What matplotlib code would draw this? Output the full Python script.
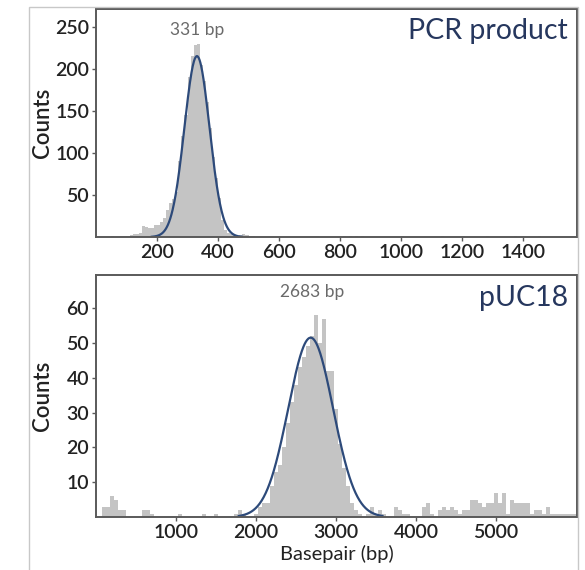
import numpy as np
import matplotlib
matplotlib.use('Agg')
import matplotlib.pyplot as plt
from matplotlib.patches import Rectangle

plt.rcParams['font.family'] = ['Lato', 'DejaVu Sans']

# PCR product histogram (10 bp bins, left edges)
pcr_starts = [50, 80, 90, 100, 110, 120, 130, 140, 150, 160, 170, 180, 190, 200, 210, 220,
              230, 240, 250, 260, 270, 280, 290, 300, 310, 320, 330, 340, 350, 360, 370, 380,
              390, 400, 410, 420, 430, 440, 450, 460, 470, 480, 490, 500, 510, 700, 710, 720,
              810, 830, 850, 870, 1000, 1130, 1200, 1280, 1370, 1450]
pcr_counts = [1, 1, 1, 1, 2, 3, 4, 5, 13, 12, 11, 11, 14, 14, 18, 22,
              32, 40, 45, 54, 90, 120, 145, 190, 215, 228, 229, 205, 185, 160, 130, 95,
              70, 46, 20, 8, 5, 3, 2, 1, 2, 3, 2, 1, 1, 1, 1, 1,
              1, 1, 1, 1, 1, 1, 1, 1, 1, 1]
pcr_fit = dict(peak=331, amp=215, sigma=41)

# pUC18 histogram (50 bp bins, left edges)
puc_starts = [70, 120, 170, 220, 270, 320, 570, 620, 670, 1020, 1320, 1470, 1720, 1770, 1820,
              1970, 2020, 2070, 2120, 2170, 2220, 2270, 2320, 2370, 2420, 2470, 2520, 2570,
              2620, 2670, 2720, 2770, 2820, 2870, 2920, 2970, 3020, 3070, 3120, 3170, 3220,
              3270, 3370, 3420, 3470, 3520, 3570, 3720, 3770, 3820, 3870, 4070, 4120, 4170,
              4270, 4320, 4370, 4420, 4470, 4520, 4570, 4620, 4670, 4720, 4770, 4820, 4870,
              4920, 4970, 5020, 5070, 5120, 5170, 5220, 5270, 5320, 5370, 5420, 5470, 5520,
              5570, 5620, 5670, 5720, 5770, 5820, 5870, 5920, 5970]
puc_counts = [3, 3, 6, 5, 2, 2, 2, 2, 1, 1, 1, 1, 1, 2, 1,
              1, 3, 4, 4, 9, 13, 15, 20, 27, 33, 38, 43, 46,
              49, 52, 58, 50, 57, 42, 42, 31, 21, 14, 9, 4, 2,
              1, 1, 3, 1, 2, 1, 3, 2, 1, 1, 3, 4, 1,
              2, 3, 2, 3, 2, 1, 2, 2, 5, 5, 4, 3, 4,
              4, 7, 4, 7, 1, 5, 4, 4, 4, 4, 1, 2, 2,
              1, 3, 1, 1, 1, 1, 1, 1, 1]
puc_fit = dict(peak=2683, amp=51.5, sigma=280)

bar_col = '#c4c4c4'
fit_col = '#2d4a7a'
title_col = '#26375e'
spine_col = '#5a5a5a'
text_col = '#222222'

fig = plt.figure(figsize=(5.85, 5.7), dpi=100)
fig.patches.append(Rectangle((29 / 585, -0.02), (578 - 29) / 585, (570 - 7) / 570 + 0.02,
                             transform=fig.transFigure, fill=False, edgecolor='#c8c8c8', lw=1))

ax1 = fig.add_axes([96 / 585, 1 - 237 / 570, 481 / 585, 228 / 570])
ax2 = fig.add_axes([96 / 585, 1 - 517 / 570, 481 / 585, 242 / 570])


def draw(ax, starts, counts, width, fit, xlim, ylim, xticks, yticks, label, peak_text, txt_dx, txt_y):
    ax.bar(starts, counts, width=width, align='edge', color=bar_col, edgecolor='none')
    x = np.linspace(xlim[0], xlim[1], 1200)
    y = fit['amp'] * np.exp(-(x - fit['peak']) ** 2 / (2 * fit['sigma'] ** 2))
    x = x[y > 0.3]
    y = y[y > 0.3]
    ax.plot(x, y, color=fit_col, lw=1.6)
    ax.set_xlim(*xlim)
    ax.set_ylim(*ylim)
    ax.set_xticks(xticks)
    ax.set_yticks(yticks)
    ax.tick_params(direction='out', length=3, width=1, color=spine_col, labelsize=14,
                   labelcolor=text_col, pad=2)
    for lab in ax.get_xticklabels() + ax.get_yticklabels():
        lab.set_fontweight('semibold')
    for s in ax.spines.values():
        s.set_color(spine_col)
        s.set_linewidth(1.4)
    ax.set_ylabel('Counts', fontsize=16, color=text_col, fontweight='semibold')
    ax.yaxis.set_label_coords(-0.09, 0.5)
    ax.text(0.981, 0.905, label, transform=ax.transAxes, ha='right', va='center',
            fontsize=20.5, color=title_col)
    ax.text(fit['peak'] + txt_dx, ylim[1] * txt_y, peak_text,
            ha='center', va='center', fontsize=12.5, color='#6a6a6a')


draw(ax1, pcr_starts, pcr_counts, 10, pcr_fit, (0, 1577), (0, 271),
     [200, 400, 600, 800, 1000, 1200, 1400], [50, 100, 150, 200, 250],
     'PCR product', '331 bp', 2, 0.91)
draw(ax2, puc_starts, puc_counts, 50, puc_fit, (0, 6012), (0, 69.5),
     [1000, 2000, 3000, 4000, 5000], [10, 20, 30, 40, 50, 60],
     'pUC18', '2683 bp', 23, 0.93)
ax2.set_xlabel('Basepair (bp)', fontsize=14.5, color=text_col, labelpad=3)

fig.savefig('out.png', dpi=100, facecolor='white')
